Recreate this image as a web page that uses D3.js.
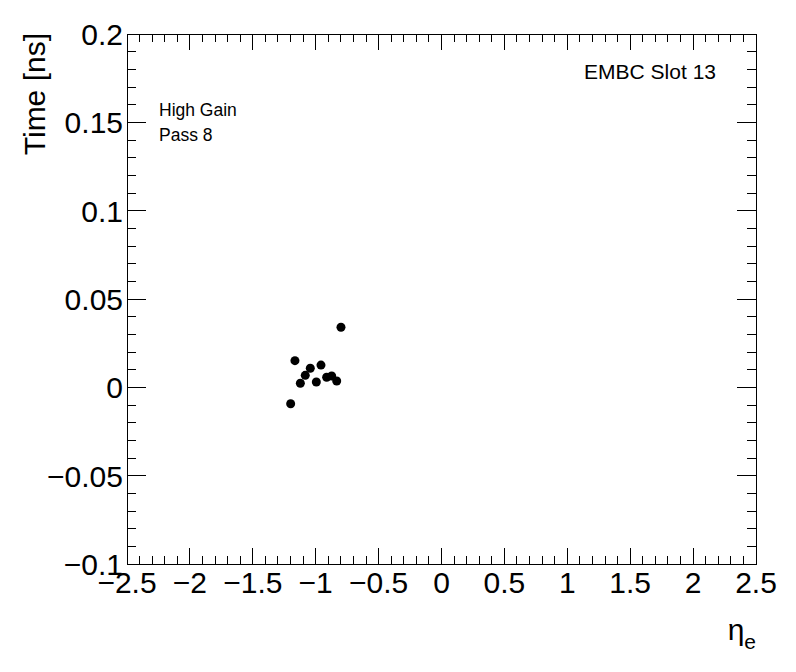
<!DOCTYPE html>
<html>
<head>
<meta charset="utf-8">
<script src="https://cdn.jsdelivr.net/npm/d3@7"></script>
<style>
  body { margin: 0; background: #fff; }
  text { font-family: "Liberation Sans", Arial, Helvetica, sans-serif; }
</style>
</head>
<body>
<svg id="chart" width="796" height="672"></svg>
<script>
// eta and time values
var etaValues = [-1.199, -1.165, -1.122, -1.083, -1.043, -0.995, -0.958, -0.913, -0.873, -0.833, -0.799];
var timeValues = [-0.0093, 0.0151, 0.0023, 0.0068, 0.0108, 0.0030, 0.0126, 0.0057, 0.0064, 0.0036, 0.0340];

var xTicks = [-2.5, -2, -1.5, -1, -0.5, 0, 0.5, 1, 1.5, 2, 2.5];
var yTicks = [-0.1, -0.05, 0, 0.05, 0.1, 0.15, 0.2];
var textLines = ["High Gain", "Pass 8"];

function drawChart() {
    var svg = d3.select("#chart"),
        left = 127, right = 756, topY = 34, bottom = 564;

    var x = d3.scaleLinear().domain([-2.5, 2.5]).range([left, right]);
    var y = d3.scaleLinear().domain([-0.1, 0.2]).range([bottom, topY]);

    function fmt(v) {
        var s = d3.format("")(+v.toFixed(3));
        return s.replace("-", "\u2212");
    }

    // minor ticks
    var xMinor = d3.range(-2.5, 2.5001, 0.1).map(function (d) { return +d.toFixed(2); });
    var yMinor = d3.range(-0.1, 0.2001, 0.01).map(function (d) { return +d.toFixed(3); });

    var g = svg.append("g").attr("stroke", "#000").attr("stroke-width", 1).attr("shape-rendering", "crispEdges");

    xMinor.forEach(function (d) {
        var major = xTicks.some(function (t) { return Math.abs(t - d) < 1e-6; });
        var len = major ? 16 : 8;
        g.append("line").attr("x1", x(d)).attr("x2", x(d)).attr("y1", bottom).attr("y2", bottom - len);
        g.append("line").attr("x1", x(d)).attr("x2", x(d)).attr("y1", topY).attr("y2", topY + len);
    });
    yMinor.forEach(function (d) {
        var major = yTicks.some(function (t) { return Math.abs(t - d) < 1e-6; });
        var len = major ? 19 : 9;
        g.append("line").attr("y1", y(d)).attr("y2", y(d)).attr("x1", left).attr("x2", left + len);
        g.append("line").attr("y1", y(d)).attr("y2", y(d)).attr("x1", right).attr("x2", right - len);
    });

    g.append("rect").attr("x", left).attr("y", topY).attr("width", right - left).attr("height", bottom - topY)
        .attr("fill", "none");

    // tick labels
    svg.append("g").selectAll("text").data(xTicks).enter().append("text")
        .attr("x", function (d) { return x(d); })
        .attr("y", 593)
        .attr("text-anchor", "middle")
        .style("font-size", "30px")
        .text(fmt);

    svg.append("g").selectAll("text").data(yTicks).enter().append("text")
        .attr("x", 123)
        .attr("y", function (d) { return y(d) + 11; })
        .attr("text-anchor", "end")
        .style("font-size", "30px")
        .text(fmt);

    // axis titles
    svg.append("text")
        .attr("transform", "translate(45," + (topY - 1) + ") rotate(-90)")
        .attr("text-anchor", "end")
        .style("font-size", "30px")
        .text("Time [ns]");

    var xt = svg.append("text")
        .attr("x", right)
        .attr("y", 640)
        .attr("text-anchor", "end")
        .style("font-size", "30px");
    xt.append("tspan").text("\u03b7");
    xt.append("tspan").attr("dy", 9).style("font-size", "21px").text("e");

    // labels
    svg.append("text")
        .attr("x", 716).attr("y", 79)
        .attr("text-anchor", "end")
        .style("font-size", "21px")
        .text("EMBC Slot 13");

    svg.append("g").selectAll("text").data(textLines).enter().append("text")
        .attr("x", 159)
        .attr("y", function (d, i) { return 116 + i * 25; })
        .style("font-size", "17.5px")
        .text(function (d) { return d; });

    // markers
    svg.append("g").selectAll("circle").data(etaValues).enter().append("circle")
        .attr("cx", function (d) { return x(d); })
        .attr("cy", function (d, i) { return y(timeValues[i]); })
        .attr("r", 4.5)
        .attr("fill", "#000");
}

drawChart();
</script>
</body>
</html>
